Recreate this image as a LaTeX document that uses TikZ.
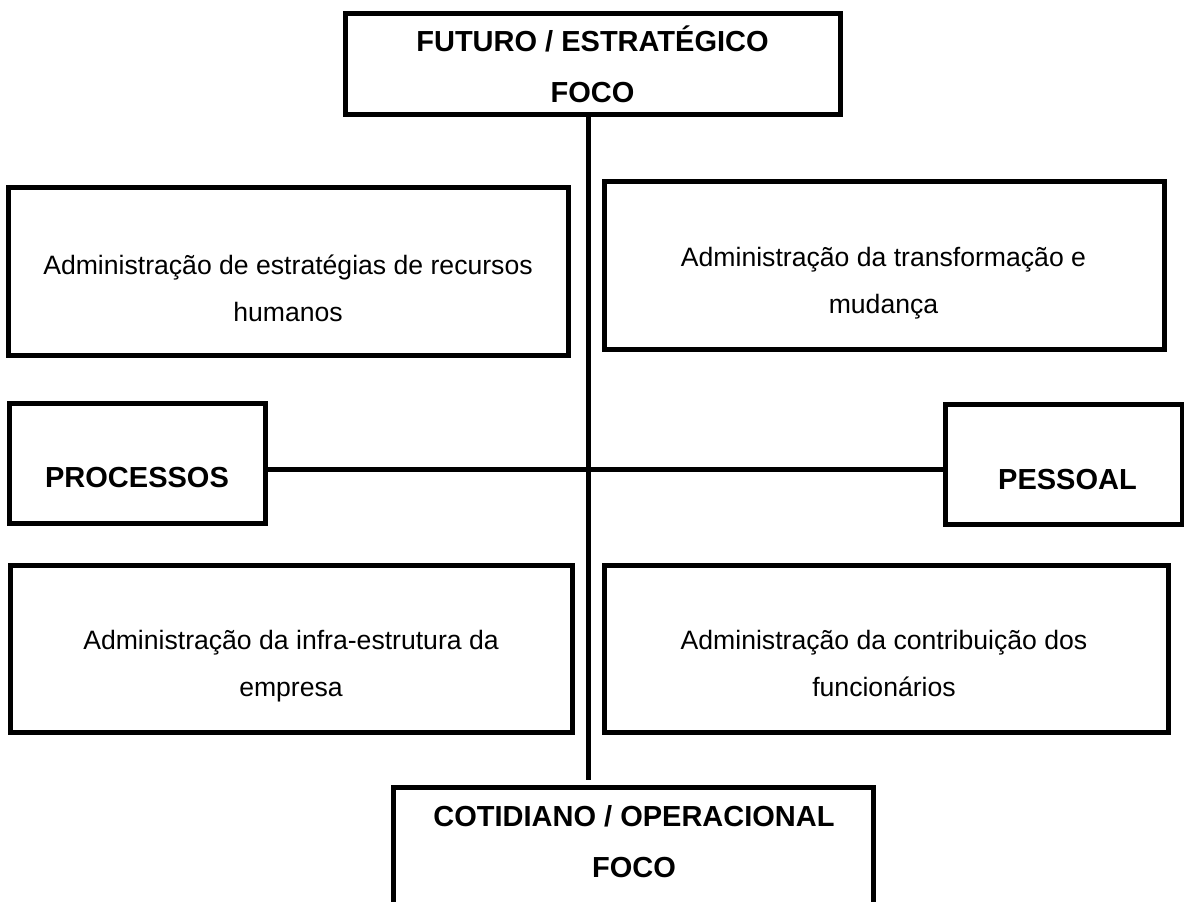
\documentclass[tikz,border=0pt]{standalone}
\usepackage{fontspec}
\setmainfont{Liberation Sans}
\begin{document}
\begin{tikzpicture}[x=1pt,y=-1pt,
  box/.style={draw, line width=5pt, rectangle, inner sep=0pt, outer sep=0pt},
  conn/.style={line width=5pt},
  nt/.style={anchor=base, inner sep=0pt, font=\fontsize{26.6}{32}\selectfont},
  bt/.style={anchor=base, inner sep=0pt, font=\fontsize{29}{35}\selectfont\bfseries}]
\useasboundingbox (0,0) rectangle (1184,902);
\clip (0,0) rectangle (1184,902);
% boxes
\node[box, minimum width=494.5pt, minimum height=101.5pt] (top) at (592.75,63.75) {};
\node[box, minimum width=560pt, minimum height=168pt] (ul) at (288,271) {};
\node[box, minimum width=560pt, minimum height=168pt] (ur) at (884,265) {};
\node[box, minimum width=256pt, minimum height=120pt] (proc) at (137,463) {};
\node[box, minimum width=237pt, minimum height=120pt] (pess) at (1063.5,464) {};
\node[box, minimum width=562pt, minimum height=167pt] (ll) at (291,648.5) {};
\node[box, minimum width=564pt, minimum height=167pt] (lr) at (886,648.5) {};
\node[box, minimum width=480pt, minimum height=160pt] (bot) at (633,867) {};
% connectors
\coordinate (vend) at (588,780);
\coordinate (hy) at (588,469.5);
\draw[conn] (top.south -| vend) -- (vend);
\draw[conn] (proc.east |- hy) -- (pess.west |- hy);
% texts
\node[bt] (t1) at (592.5,51.4) {FUTURO / ESTRATÉGICO};
\node[bt] (t2) at (592.5,102.4) {FOCO};
\node[nt] (ul1) at (288,274) {Administração de estratégias de recursos};
\node[nt] (ul2) at (288,321) {humanos};
\node[nt] (ur1) at (883.5,266) {Administração da transformação e};
\node[nt] (ur2) at (883.5,313) {mudança};
\node[bt] (pt) at (137,487.5) {PROCESSOS};
\node[bt] (st) at (1067.5,489.5) {PESSOAL};
\node[nt] (ll1) at (291,649) {Administração da infra-estrutura da};
\node[nt] (ll2) at (291,696) {empresa};
\node[nt] (lr1) at (884,649) {Administração da contribuição dos};
\node[nt] (lr2) at (884,696) {funcionários};
\node[bt] (b1) at (634,826) {COTIDIANO / OPERACIONAL};
\node[bt] (b2) at (634,877) {FOCO};
\end{tikzpicture}
\end{document}
